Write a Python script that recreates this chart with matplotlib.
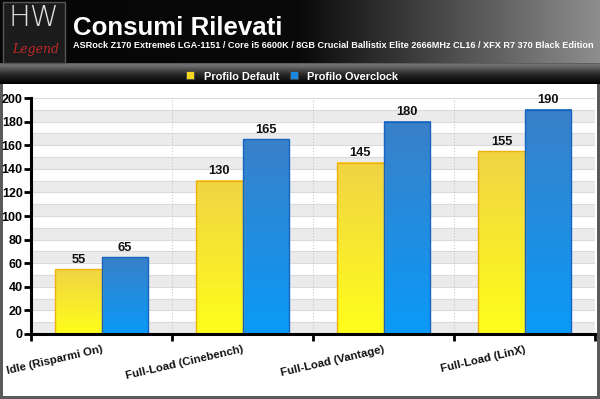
import numpy as np
import matplotlib
matplotlib.use("Agg")
import matplotlib.pyplot as plt
from matplotlib.patches import Rectangle
from matplotlib.colors import LinearSegmentedColormap

# dati del grafico
categorie = ['Idle (Risparmi On)', 'Full-Load (Cinebench)', 'Full-Load (Vantage)', 'Full-Load (LinX)']
profilo_default = [55, 130, 145, 155]
profilo_overclock = [65, 165, 180, 190]
serie = ['Profilo Default', 'Profilo Overclock']
titolo = 'Consumi Rilevati'
sottotitolo = 'ASRock Z170 Extreme6 LGA-1151 / Core i5 6600K / 8GB Crucial Ballistix Elite 2666MHz CL16 / XFX R7 370 Black Edition'
yticks = list(range(0, 201, 20))

plt.rcParams['font.family'] = ['Liberation Sans', 'DejaVu Sans']
plt.rcParams['font.weight'] = 'bold'

W, H = 600, 399
fig = plt.figure(figsize=(W / 100, H / 100), dpi=100)
fig.patch.set_facecolor('#5a5a5a')

# sfondo in pixel
bg = fig.add_axes([0, 0, 1, 1])
bg.set_xlim(0, W)
bg.set_ylim(H, 0)
bg.axis('off')

# area bianca
bg.add_patch(Rectangle((3, 84), 594, 312, facecolor='white', edgecolor='none'))

# intestazione con sfumatura orizzontale
grad_h = np.linspace(0, 1, 256).reshape(1, -1)
cm_head = LinearSegmentedColormap.from_list('head', ['#050505', '#0a0a0a', '#8e8e8e'])
bg.imshow(grad_h, extent=[0, W, 63, 0], cmap=cm_head, aspect='auto', zorder=1)
bg.plot([0, W], [63.5, 63.5], color='#707070', lw=1, zorder=2)

# barra legenda con sfumatura verticale
grad_v = np.linspace(0, 1, 64).reshape(-1, 1)
cm_leg = LinearSegmentedColormap.from_list('leg', ['#7a7a7a', '#2a2a2a', '#000000'])
bg.imshow(grad_v, extent=[0, W, 84, 64], cmap=cm_leg, aspect='auto', zorder=1)

# logo
bg.add_patch(Rectangle((3, 2), 62, 61, facecolor='#1c1c1c', edgecolor='#555555', lw=1, zorder=2))
bg.text(34, 18, 'HW', color='#e0e0e0', fontsize=21, fontweight='light', family='DejaVu Sans',
        ha='center', va='center', zorder=3)
bg.text(36, 50, 'Legend', color='#c0282a', fontsize=9, fontstyle='italic', fontweight='normal',
        family='DejaVu Serif', ha='center', va='center', zorder=3)

bg.text(73, 35, titolo, color='white', fontsize=18.6, fontweight='bold', va='baseline', zorder=3)
bg.text(73, 47.5, sottotitolo, color='white', fontsize=6.6, fontweight='bold', va='baseline', zorder=3)

# legenda
colori_leg = ['#f5d820', '#1a88e0']
pos_leg = [(186, 204), (290, 307)]
for (xq, xt), c, nome in zip(pos_leg, colori_leg, serie):
    bg.add_patch(Rectangle((xq, 71), 8, 8, facecolor=c, edgecolor='#444444', lw=0.6, zorder=3))
    bg.text(xt, 79.5, nome, color='white', fontsize=7.9, fontweight='bold', va='baseline', zorder=3)

# grafico principale
ax = fig.add_axes([31 / W, (H - 334) / H, 564 / W, (334 - 98) / H])
ax.set_facecolor('none')

for y0 in range(0, 200, 20):
    ax.axhspan(y0, y0 + 10, color='#ebebeb', zorder=0, lw=0)
for y in range(10, 201, 10):
    ax.axhline(y, color='#dadada', lw=0.8, zorder=0.5)
for xv in [1, 2, 3]:
    ax.axvline(xv, color='#c8c8c8', lw=0.8, ls=':', zorder=0.6)

larg = 0.327
cm_gialla = LinearSegmentedColormap.from_list('gialla', ['#f0d444', '#fffe1a'])
cm_blu = LinearSegmentedColormap.from_list('blu', ['#3a80c8', '#0a9af8'])
grad_bar = np.linspace(0, 1, 128).reshape(-1, 1)

x = np.arange(len(categorie)) + 0.5
for valori, offs, cmap, bordo in [(profilo_default, -larg, cm_gialla, '#f0b010'),
                                   (profilo_overclock, 0, cm_blu, '#1464c0')]:
    for xi, v in zip(x, valori):
        x0 = xi + offs
        # ombra
        ax.add_patch(Rectangle((x0 + 0.012, 0), larg, v - 1.2, facecolor='#000000', alpha=0.18,
                               edgecolor='none', zorder=1))
        ax.imshow(grad_bar, extent=[x0, x0 + larg, 0, v], cmap=cmap, aspect='auto', zorder=2)
        ax.add_patch(Rectangle((x0, 0), larg, v, fill=False, edgecolor=bordo, lw=1.0, zorder=3))
        ax.text(x0 + larg / 2, v + 3, str(v), ha='center', va='bottom', fontsize=9.3,
                fontweight='bold', color='#111111', zorder=4)

ax.set_xlim(0, 4)
ax.set_ylim(0, 200)
ax.set_yticks(yticks)
ax.set_yticklabels([str(t) for t in yticks], fontsize=9, fontweight='bold')
ax.set_xticks([0, 1, 2, 3, 4])
ax.set_xticklabels([])
for xi, lab in zip(x, categorie):
    ax.text(xi, -9, lab, rotation=13, ha='right', va='top', rotation_mode='anchor',
            fontsize=8.2, fontweight='bold', color='#111111')

for s in ['top', 'right']:
    ax.spines[s].set_visible(False)
for s in ['left', 'bottom']:
    ax.spines[s].set_linewidth(2.2)
    ax.spines[s].set_color('black')
    ax.spines[s].set_zorder(5)
ax.tick_params(axis='y', length=5, width=2, pad=1, colors='black')
ax.tick_params(axis='x', length=5, width=2, colors='black')

fig.savefig('out.png', dpi=100, facecolor=fig.get_facecolor())
